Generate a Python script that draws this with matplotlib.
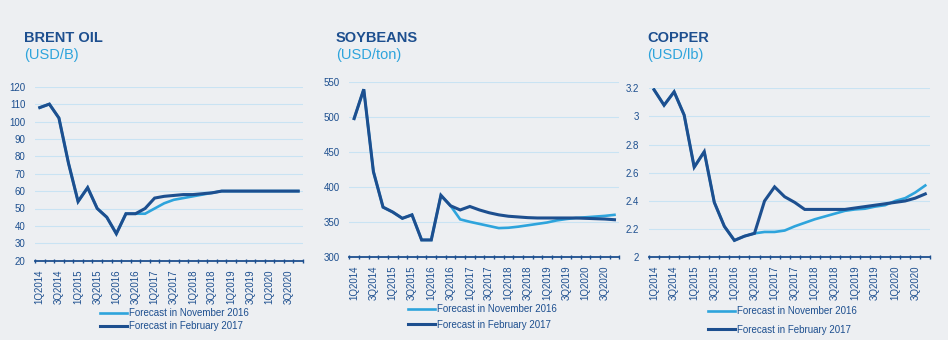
import matplotlib.pyplot as plt
import numpy as np

plt.rcParams['font.family'] = ['Liberation Sans', 'DejaVu Sans']

# quarters 1Q2014 .. 4Q2020
quarters = ['%dQ%d' % (q, y) for y in range(2014, 2021) for q in range(1, 5)]

brent_nov = [108, 110, 102, 76, 54, 62, 50, 45, 35.5, 47, 47, 47, 50, 53, 55, 56, 57, 58, 59, 60,
             60, 60, 60, 60, 60, 60, 60, 60]
brent_feb = [108, 110, 102, 76, 54, 62, 50, 45, 35.5, 47, 47, 50, 56, 57, 57.5, 58, 58, 58.5, 59, 60,
             60, 60, 60, 60, 60, 60, 60, 60]

soy_nov = [498, 540, 422, 371, 364, 355, 360, 324, 324, 388, 373, 353.5, 350, 347, 344, 341, 341.5, 343,
           345, 347, 349, 352, 354, 355.5, 356.5, 357.5, 358.5, 360]
soy_feb = [498, 540, 422, 371, 364, 355, 360, 324, 324, 388, 373, 367, 372, 367, 363, 360, 358, 357,
           356, 355.5, 355.5, 355.5, 355.5, 355.5, 355, 354.5, 354, 353]

copper_nov = [3.19, 3.08, 3.175, 3.01, 2.64, 2.75, 2.39, 2.22, 2.12, 2.15, 2.17, 2.18, 2.18, 2.19, 2.22,
              2.245, 2.27, 2.29, 2.31, 2.33, 2.34, 2.345, 2.36, 2.37, 2.40, 2.42, 2.46, 2.51]
copper_feb = [3.19, 3.08, 3.175, 3.01, 2.64, 2.75, 2.39, 2.22, 2.12, 2.15, 2.17, 2.40, 2.50, 2.43, 2.39,
              2.34, 2.34, 2.34, 2.34, 2.34, 2.35, 2.36, 2.37, 2.38, 2.39, 2.40, 2.42, 2.45]

legend_labels = ['Forecast in November 2016', 'Forecast in February 2017']

bg = '#edeff2'
dark = '#1d4f8f'
light = '#2ea4dc'
grid_c = '#c9e3f3'

W, H = 948, 340
fig = plt.figure(figsize=(9.48, 3.40), dpi=100, facecolor=bg)

panels = [
    # title, unit, nov, feb, ylim, yticks, ticklabels, axes rect(px), title x, legend (x, y, spacing)
    ('BRENT OIL', '(USD/B)', brent_nov, brent_feb, (20, 120), np.arange(20, 121, 10),
     [str(v) for v in range(20, 121, 10)], (35, 86.7, 303, 260.7), 24, (100, 308, 0.35)),
    ('SOYBEANS', '(USD/ton)', soy_nov, soy_feb, (300, 550), np.arange(300, 551, 50),
     [str(v) for v in range(300, 551, 50)], (349.3, 82.3, 619.3, 256.7), 336, (408, 304, 0.6)),
    ('COPPER', '(USD/lb)', copper_nov, copper_feb, (2, 3.2), np.arange(2.0, 3.21, 0.2),
     ['2', '2.2', '2.4', '2.6', '2.8', '3', '3.2'], (649, 88.3, 930.3, 257.3), 647, (708, 306, 0.9)),
]

x = np.arange(len(quarters))
for title, unit, nov, feb, ylim, yt, ytl, rect, tx, leg in panels:
    x0, y0, x1, y1 = rect
    ax = fig.add_axes([x0 / W, 1 - y1 / H, (x1 - x0) / W, (y1 - y0) / H])
    ax.set_facecolor(bg)
    l1, = ax.plot(x, nov, color=light, lw=1.9, solid_joinstyle='miter')
    l2, = ax.plot(x, feb, color=dark, lw=2.2, solid_joinstyle='miter')
    ax.set_xlim(-0.5, len(quarters) - 0.5)
    ax.set_ylim(*ylim)
    ax.set_yticks(yt)
    ax.set_yticklabels(ytl)
    ax.set_xticks(x[::2])
    ax.set_xticklabels(quarters[::2], rotation=90)
    ax.set_xticks(np.arange(-0.5, len(quarters), 1), minor=True)
    ax.tick_params(axis='x', which='major', length=0, pad=6, labelsize=7, labelcolor=dark)
    ax.tick_params(axis='x', which='minor', length=3, width=1, direction='inout', color=dark)
    ax.tick_params(axis='y', length=0, pad=7, labelsize=7, labelcolor=dark)
    for s in ['top', 'right', 'left']:
        ax.spines[s].set_visible(False)
    ax.spines['bottom'].set_color(dark)
    ax.spines['bottom'].set_linewidth(1.3)
    ax.grid(axis='y', color=grid_c, lw=0.8)
    ax.set_axisbelow(True)

    fig.text(tx / W, 1 - 42 / H, title, fontsize=10.5, fontweight='bold', color=dark)
    fig.text(tx / W, 1 - 59 / H, unit, fontsize=10.5, color=light)

    lx, ly, sp = leg
    ax.legend([l1, l2], legend_labels, loc='upper left', bbox_to_anchor=(lx / W, 1 - ly / H),
              bbox_transform=fig.transFigure, frameon=False, fontsize=7, labelcolor=dark,
              handlelength=2.8, handletextpad=0.2, borderpad=0, borderaxespad=0, labelspacing=sp)

fig.savefig('out.png', dpi=100, facecolor=bg)
